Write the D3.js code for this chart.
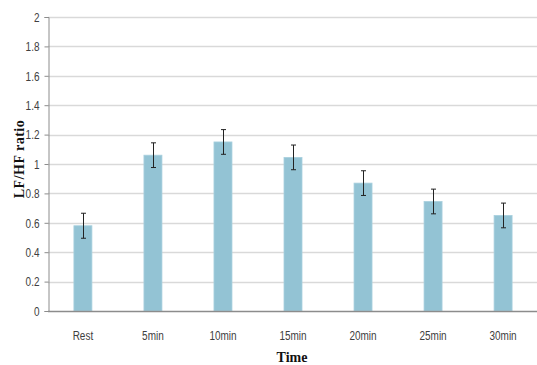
<!DOCTYPE html>
<html><head><meta charset="utf-8">
<script src="https://cdn.jsdelivr.net/npm/d3@7"></script>
<style>body{margin:0;background:#fff}svg{display:block}</style>
</head><body>
<svg id="c" width="537" height="365"></svg>
<script>
const categories = ["Rest","5min","10min","15min","20min","25min","30min"];
const values = [0.58, 1.06, 1.15, 1.045, 0.87, 0.745, 0.65];
const errors = [0.085, 0.084, 0.084, 0.084, 0.084, 0.084, 0.084];
const yTicks = [0,0.2,0.4,0.6,0.8,1,1.2,1.4,1.6,1.8,2];
const yTickLabels = ["0","0.2","0.4","0.6","0.8","1","1.2","1.4","1.6","1.8","2"];

const svg = d3.select("#c");
const m = {left:48, right:537, top:17, bottom:311};
const x = d3.scaleBand().domain(categories).range([m.left, m.left + 7*70]).paddingInner(0.743).paddingOuter(0.37);
const y = d3.scaleLinear().domain([0,2]).range([m.bottom, m.top]);
const narrow = "'Liberation Sans',Arial,sans-serif";

// gridlines
svg.append("g").selectAll("line").data(yTicks.filter(d=>d>0)).join("line")
  .attr("x1", m.left).attr("x2", m.right)
  .attr("y1", d=>Math.round(y(d))+0.5).attr("y2", d=>Math.round(y(d))+0.5)
  .attr("stroke", "#d9d9d9").attr("stroke-width", 1.5);

// y axis
const yAxis = d3.axisLeft(y).tickValues(yTicks).tickFormat((d,i)=>yTickLabels[i]).tickSize(4).tickPadding(5);
const gy = svg.append("g").attr("transform", `translate(${m.left+0.5},0)`).call(yAxis);
gy.select(".domain").attr("stroke","#8c8c8c");
gy.selectAll(".tick line").attr("stroke","#8c8c8c");
gy.selectAll(".tick text").attr("fill","#404040").attr("x",0)
  .attr("transform","translate(-9,0) scale(0.74,1)")
  .style("font-family",narrow).style("font-size","13.5px");

// bars
const bw = 18;
svg.append("g").selectAll("rect").data(values).join("rect")
  .attr("x", (d,i)=> x(categories[i]) + x.bandwidth()/2 - bw/2)
  .attr("width", bw)
  .attr("y", d=>y(d)).attr("height", d=>y(0)-y(d))
  .attr("fill", "#93c3d4").attr("stroke","#a9d0de").attr("stroke-width",0.8);

// error bars
const eg = svg.append("g").attr("stroke","#222").attr("stroke-width",1);
values.forEach((v,i)=>{
  const cx = Math.round(x(categories[i]) + x.bandwidth()/2) + 0.5;
  const t = y(v+errors[i]), b = y(v-errors[i]);
  eg.append("line").attr("x1",cx).attr("x2",cx).attr("y1",t).attr("y2",b);
  eg.append("line").attr("x1",cx-2.5).attr("x2",cx+2.5).attr("y1",t).attr("y2",t);
  eg.append("line").attr("x1",cx-2.5).attr("x2",cx+2.5).attr("y1",b).attr("y2",b);
});

// x axis
const xAxis = d3.axisBottom(x).tickSize(0).tickPadding(19);
const gx = svg.append("g").attr("transform", `translate(0,${m.bottom+0.5})`).call(xAxis);
gx.select(".domain").attr("d", `M${m.left},0H${m.right}`).attr("stroke","#8c8c8c").attr("stroke-width",1.5);
gx.selectAll(".tick text").attr("fill","#404040")
  .attr("transform","scale(0.74,1)")
  .style("font-family",narrow).style("font-size","13.5px");

// titles
svg.append("text").attr("x", 292).attr("y", 362).attr("text-anchor","middle")
  .style("font-family","'Liberation Serif',serif").style("font-size","14px").style("font-weight","bold")
  .attr("fill","#111").text("Time");
svg.append("text").attr("transform","translate(24,159) rotate(-90)").attr("text-anchor","middle")
  .style("font-family","'Liberation Serif',serif").style("font-size","14px").style("font-weight","bold")
  .style("letter-spacing","0.5px")
  .attr("fill","#111").text("LF/HF ratio");
</script>
</body></html>
